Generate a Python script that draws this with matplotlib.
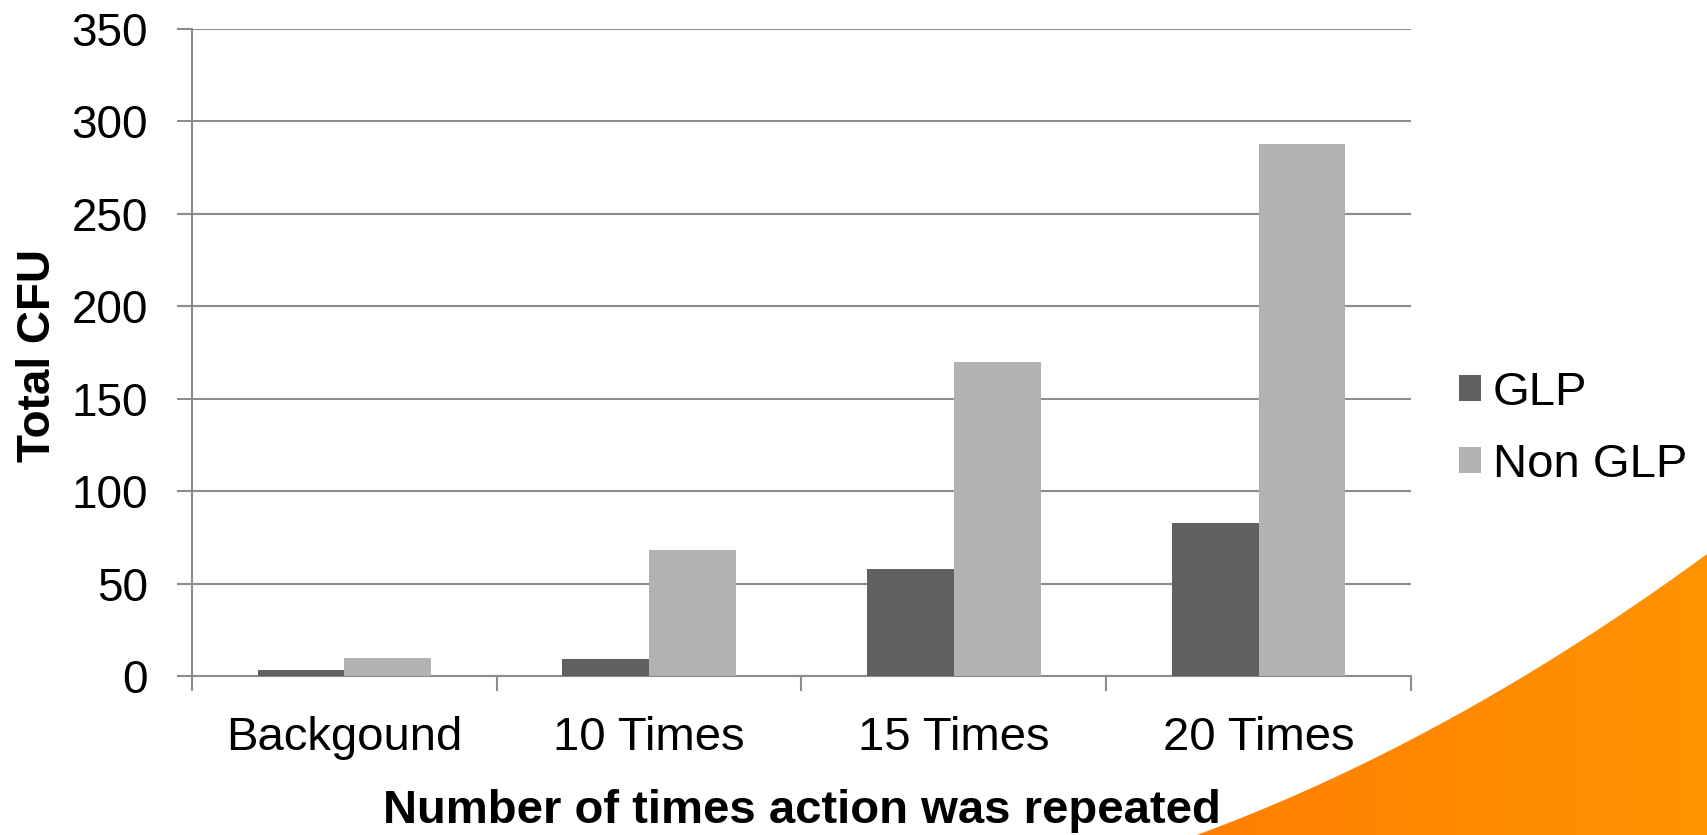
import numpy as np
import matplotlib
matplotlib.use("Agg")
import matplotlib.pyplot as plt
from matplotlib.path import Path
from matplotlib.patches import PathPatch
from matplotlib.colors import LinearSegmentedColormap

plt.rcParams['font.family'] = ['Liberation Sans', 'DejaVu Sans']

categories = ["Backgound", "10 Times", "15 Times", "20 Times"]
glp = [3, 9, 58, 83]
non_glp = [10, 68, 170, 288]
series_names = ["GLP", "Non GLP"]
colors = ["#606060", "#B2B2B2"]
y_ticks = [0, 50, 100, 150, 200, 250, 300, 350]

W, H = 1707, 835
fig = plt.figure(figsize=(W / 100, H / 100), dpi=100)

# Orange decorative swoosh (background, bottom-right), pixel coords
bg = fig.add_axes([0, 0, 1, 1], zorder=0)
bg.set_xlim(0, W)
bg.set_ylim(H, 0)
bg.axis('off')
cx = np.array([1190, 1313, 1440, 1573, 1707])
cy = np.array([835, 788, 722, 643, 553])
coef = np.polyfit(cx, cy, 2)
xs = np.linspace(1180, W, 200)
ys = np.polyval(coef, xs)
verts = list(zip(xs, ys)) + [(W, H + 5), (1180, H + 5)]
poly = Path(verts + [verts[0]], [Path.MOVETO] + [Path.LINETO] * (len(verts) - 1) + [Path.CLOSEPOLY])
grad = np.linspace(0, 1, 256).reshape(1, -1)
cmap = LinearSegmentedColormap.from_list("or", ["#FF7E00", "#FF9300"])
im = bg.imshow(grad, extent=[1180, W, H + 5, 500], cmap=cmap, aspect='auto', zorder=1)
patch = PathPatch(poly, facecolor='none', edgecolor='none')
bg.add_patch(patch)
im.set_clip_path(patch)
bg.plot(xs, ys, color='white', lw=2.0, zorder=2)

ax_l, ax_r, ax_t, ax_b = 192, 1411, 29, 676
ax = fig.add_axes([ax_l / W, 1 - ax_b / H, (ax_r - ax_l) / W, (ax_b - ax_t) / H], zorder=1)
ax.patch.set_alpha(0)

x = np.arange(len(categories))
bw = 0.285
ax.bar(x - bw / 2, glp, bw, color=colors[0], label=series_names[0], zorder=3)
ax.bar(x + bw / 2, non_glp, bw, color=colors[1], label=series_names[1], zorder=3)

ax.set_xlim(-0.5, len(categories) - 0.5)
ax.set_ylim(0, 350)
ax.set_yticks(y_ticks)
ax.set_yticklabels([str(v) for v in y_ticks], fontsize=33)
ax.yaxis.grid(True, color='#8C8C8C', lw=1.5, zorder=0)
ax.set_axisbelow(True)

ax.set_xticks(x)
ax.set_xticklabels(categories, fontsize=34)
ax.set_xticks(np.arange(-0.5, len(categories)), minor=True)
ax.tick_params(axis='x', which='major', length=0, pad=29)
ax.tick_params(axis='x', which='minor', length=10.5, width=1.5, color='#8C8C8C')
ax.tick_params(axis='y', length=10.8, width=1.5, color='#8C8C8C', pad=21)

for s in ['top', 'right']:
    ax.spines[s].set_visible(False)
for s in ['left', 'bottom']:
    ax.spines[s].set_color('#8C8C8C')
    ax.spines[s].set_linewidth(1.5)

ax.set_ylabel("Total CFU", fontsize=33, fontweight='bold')
ax.yaxis.label.set_va('center')
ax.yaxis.set_label_coords((38 - ax_l) / (ax_r - ax_l), 0.5 + (((ax_b + ax_t) / 2) - 356) / (ax_b - ax_t))
ax.set_xlabel("Number of times action was repeated", fontsize=34, fontweight='bold')
ax.xaxis.label.set_va('center')
ax.xaxis.set_label_coords(0.5, (ax_b - 811) / (ax_b - ax_t))

leg = fig.legend(loc='center left', bbox_to_anchor=(1459 / W, 1 - 429 / H), frameon=False,
                 fontsize=34, handlelength=0.47, handleheight=0.47, handletextpad=0.25,
                 labelspacing=0.59, borderpad=0, borderaxespad=0)

fig.savefig("out.png", dpi=100)
